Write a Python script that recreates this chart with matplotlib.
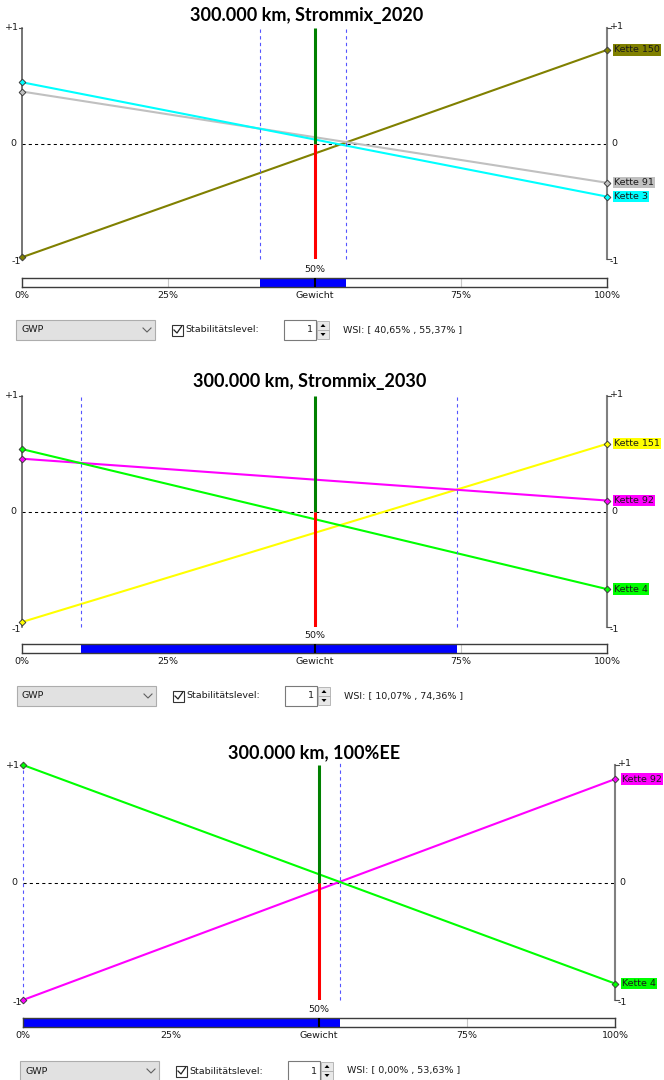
import matplotlib
matplotlib.use("Agg")
import matplotlib.pyplot as plt
from matplotlib.patches import Rectangle, Polygon

# ---------------------------------------------------------------- data
titles = ["300.000 km, Strommix_2020", "300.000 km, Strommix_2030", "300.000 km, 100%EE"]

chains_2020 = ["Kette 150", "Kette 91", "Kette 3"]
left_2020 = [-0.985, 0.45, 0.53]
right_2020 = [0.81, -0.34, -0.46]
colors_2020 = ["#808000", "#c0c0c0", "#00ffff"]

chains_2030 = ["Kette 151", "Kette 92", "Kette 4"]
left_2030 = [-0.957, 0.457, 0.54]
right_2030 = [0.586, 0.095, -0.672]
colors_2030 = ["#ffff00", "#ff00ff", "#00ff00"]

chains_ee = ["Kette 92", "Kette 4"]
left_ee = [-1.0, 1.0]
right_ee = [0.88, -0.86]
colors_ee = ["#ff00ff", "#00ff00"]

wsi_2020 = (40.65, 55.37)
wsi_2030 = (10.07, 74.36)
wsi_ee = (0.00, 53.63)

weight_pct = 50
slider_ticks = [0, 25, 50, 75, 100]
slider_labels = ["0%", "25%", "Gewicht", "75%", "100%"]
indicator = "GWP"
stability_level = 1

# ---------------------------------------------------------------- layout (pixels)
W, H, DPI = 664, 1080, 100
layouts = [
    dict(x0=22, x1=607, ytop=28, ybot=259, title_x=307, title_y=15, bar=(278, 287), ctrl_y=330, dx=0),
    dict(x0=22, x1=607, ytop=396, ybot=627, title_x=310, title_y=381, bar=(644, 653), ctrl_y=696, dx=1),
    dict(x0=23, x1=615, ytop=765, ybot=1000, title_x=314, title_y=753, bar=(1018, 1027), ctrl_y=1071, dx=4),
]

UI_FONT = "DejaVu Sans"
UI_SIZE = 6.8
TXT = "#1a1a1a"

fig = plt.figure(figsize=(W / DPI, H / DPI), dpi=DPI)
fig.patch.set_facecolor("white")

ui = fig.add_axes([0, 0, 1, 1])
ui.set_xlim(0, W)
ui.set_ylim(H, 0)
ui.axis("off")


def draw_panel(title, names, left, right, colors, wsi, L):
    x0, x1, yt, yb = L["x0"], L["x1"], L["ytop"], L["ybot"]
    lo, hi = wsi

    ui.text(L["title_x"], L["title_y"], title, ha="center", va="center",
            fontsize=13, fontweight="bold", family="Lato", color="black")

    ax = fig.add_axes([x0 / W, 1 - yb / H, (x1 - x0) / W, (yb - yt) / H])
    ax.set_xlim(0, 100)
    ax.set_ylim(-1, 1)
    ax.axis("off")
    ax.patch.set_alpha(0)

    # zero reference
    ax.plot([0, 100], [0, 0], color="black", lw=0.75, dashes=(3, 3), zorder=1)

    # scale axes at both ends
    if lo > 0:
        ax.plot([0, 0], [-1, 1], color="#505050", lw=1.1, zorder=1, clip_on=False)
    ax.plot([-0.5, 0], [1, 1], color="#505050", lw=0.8, zorder=1, clip_on=False)
    ax.plot([100, 100], [-1, 1], color="#808080", lw=1.5, zorder=1, clip_on=False)
    ax.plot([100, 100.6], [1, 1], color="#505050", lw=0.8, zorder=1, clip_on=False)
    ax.plot([100, 100.6], [-1, -1], color="#505050", lw=0.8, zorder=1, clip_on=False)

    kw = dict(textcoords="offset points", fontsize=UI_SIZE, family=UI_FONT, color=TXT,
              annotation_clip=False)
    ax.annotate("+1", xy=(0, 1), xytext=(-2, 0), ha="right", va="center", **kw)
    ax.annotate("0", xy=(0, 0), xytext=(-4, 0), ha="right", va="center", **kw)
    ax.annotate("-1", xy=(0, -1), xytext=(-1, -2), ha="right", va="center", **kw)
    ax.annotate("+1", xy=(100, 1), xytext=(2, 1), ha="left", va="center", **kw)
    ax.annotate("0", xy=(100, 0), xytext=(3, 0), ha="left", va="center", **kw)
    ax.annotate("-1", xy=(100, -1), xytext=(2, -2), ha="left", va="center", **kw)

    # chain lines
    for n, a, b, c in zip(names, left, right, colors):
        ax.plot([0, 100], [a, b], color=c, lw=1.5, zorder=3, solid_capstyle="butt")
        ax.plot([0, 100], [a, b], ls="none", marker="D", ms=3.4, mfc=c, mec="#404040",
                mew=0.7, zorder=6, clip_on=False)
        ax.annotate(n, xy=(100, b), xytext=(4.8, 0), ha="left", va="center",
                    bbox=dict(boxstyle="square,pad=0.12", fc=c, ec="none"), **kw)

    # stability interval limits
    for v in (lo, hi):
        ax.plot([v, v], [-1, 1.02], color="#5555ff", lw=0.8, dashes=(3, 3), zorder=4,
                clip_on=False)

    # current weight
    ax.plot([weight_pct, weight_pct], [0, 1], color="#008000", lw=2.2, zorder=5,
            solid_capstyle="butt")
    ax.plot([weight_pct, weight_pct], [-1, 0], color="#ff0000", lw=2.2, zorder=5,
            solid_capstyle="butt")

    # weight slider
    bt, bb = L["bar"]
    sax = fig.add_axes([x0 / W, 1 - bb / H, (x1 - x0) / W, (bb - bt) / H])
    sax.set_xlim(0, 100)
    sax.set_ylim(0, 1)
    sax.set_facecolor("white")
    for s in sax.spines.values():
        s.set_color("#3c3c3c")
        s.set_linewidth(1.0)
    sax.set_yticks([])
    sax.set_xticks(slider_ticks, slider_labels)
    sax.tick_params(axis="x", length=0, pad=3, labelsize=UI_SIZE, labelcolor=TXT)
    for lab in sax.get_xticklabels():
        lab.set_family(UI_FONT)
    for t in (25, 75):
        sax.axvline(t, color="#c8c8c8", lw=0.8, zorder=1)
    sax.axvspan(lo, hi, color="#0000ff", lw=0, zorder=2)
    sax.axvline(weight_pct, color="black", lw=1.5, zorder=3)
    sax.annotate(f"{weight_pct}%", xy=(weight_pct, 1), xytext=(0, 3),
                 textcoords="offset points", ha="center", va="bottom",
                 fontsize=UI_SIZE, family=UI_FONT, color=TXT, annotation_clip=False)

    # control row
    cy, dx = L["ctrl_y"], L["dx"]
    tkw = dict(va="center", fontsize=UI_SIZE, family=UI_FONT, color=TXT)
    ui.add_patch(Rectangle((16 + dx, cy - 10), 139, 20, fc="#e1e1e1", ec="#adadad", lw=0.8))
    ui.text(21 + dx, cy, indicator, ha="left", **tkw)
    ui.plot([143 + dx, 147 + dx, 151 + dx], [cy - 2, cy + 2, cy - 2], color="#606060", lw=0.8)

    ui.add_patch(Rectangle((172 + dx, cy - 5.5), 11, 11, fc="white", ec="#333333", lw=0.8))
    ui.plot([174 + dx, 177 + dx, 181.5 + dx], [cy, cy + 3, cy - 3.5], color="#222222", lw=0.9)
    ui.text(185 + dx, cy, "Stabilitätslevel:", ha="left", **tkw)

    ui.add_patch(Rectangle((284 + dx, cy - 10), 32, 20, fc="white", ec="#7a7a7a", lw=0.8))
    ui.text(313 + dx, cy, str(stability_level), ha="right", **tkw)
    ui.add_patch(Rectangle((317 + dx, cy - 9), 12, 9, fc="#e8e8e8", ec="#adadad", lw=0.6))
    ui.add_patch(Rectangle((317 + dx, cy), 12, 9, fc="#e8e8e8", ec="#adadad", lw=0.6))
    ui.add_patch(Polygon([(320.5 + dx, cy - 3), (325.5 + dx, cy - 3), (323 + dx, cy - 6)],
                         fc="black", ec="none"))
    ui.add_patch(Polygon([(320.5 + dx, cy + 3), (325.5 + dx, cy + 3), (323 + dx, cy + 6)],
                         fc="black", ec="none"))

    wsi_text = f"WSI: [ {lo:.2f}% , {hi:.2f}% ]".replace(".", ",")
    ui.text(343 + dx, cy, wsi_text, ha="left", **tkw)


draw_panel(titles[0], chains_2020, left_2020, right_2020, colors_2020, wsi_2020, layouts[0])
draw_panel(titles[1], chains_2030, left_2030, right_2030, colors_2030, wsi_2030, layouts[1])
draw_panel(titles[2], chains_ee, left_ee, right_ee, colors_ee, wsi_ee, layouts[2])

fig.savefig("out.png", dpi=DPI, facecolor="white")
